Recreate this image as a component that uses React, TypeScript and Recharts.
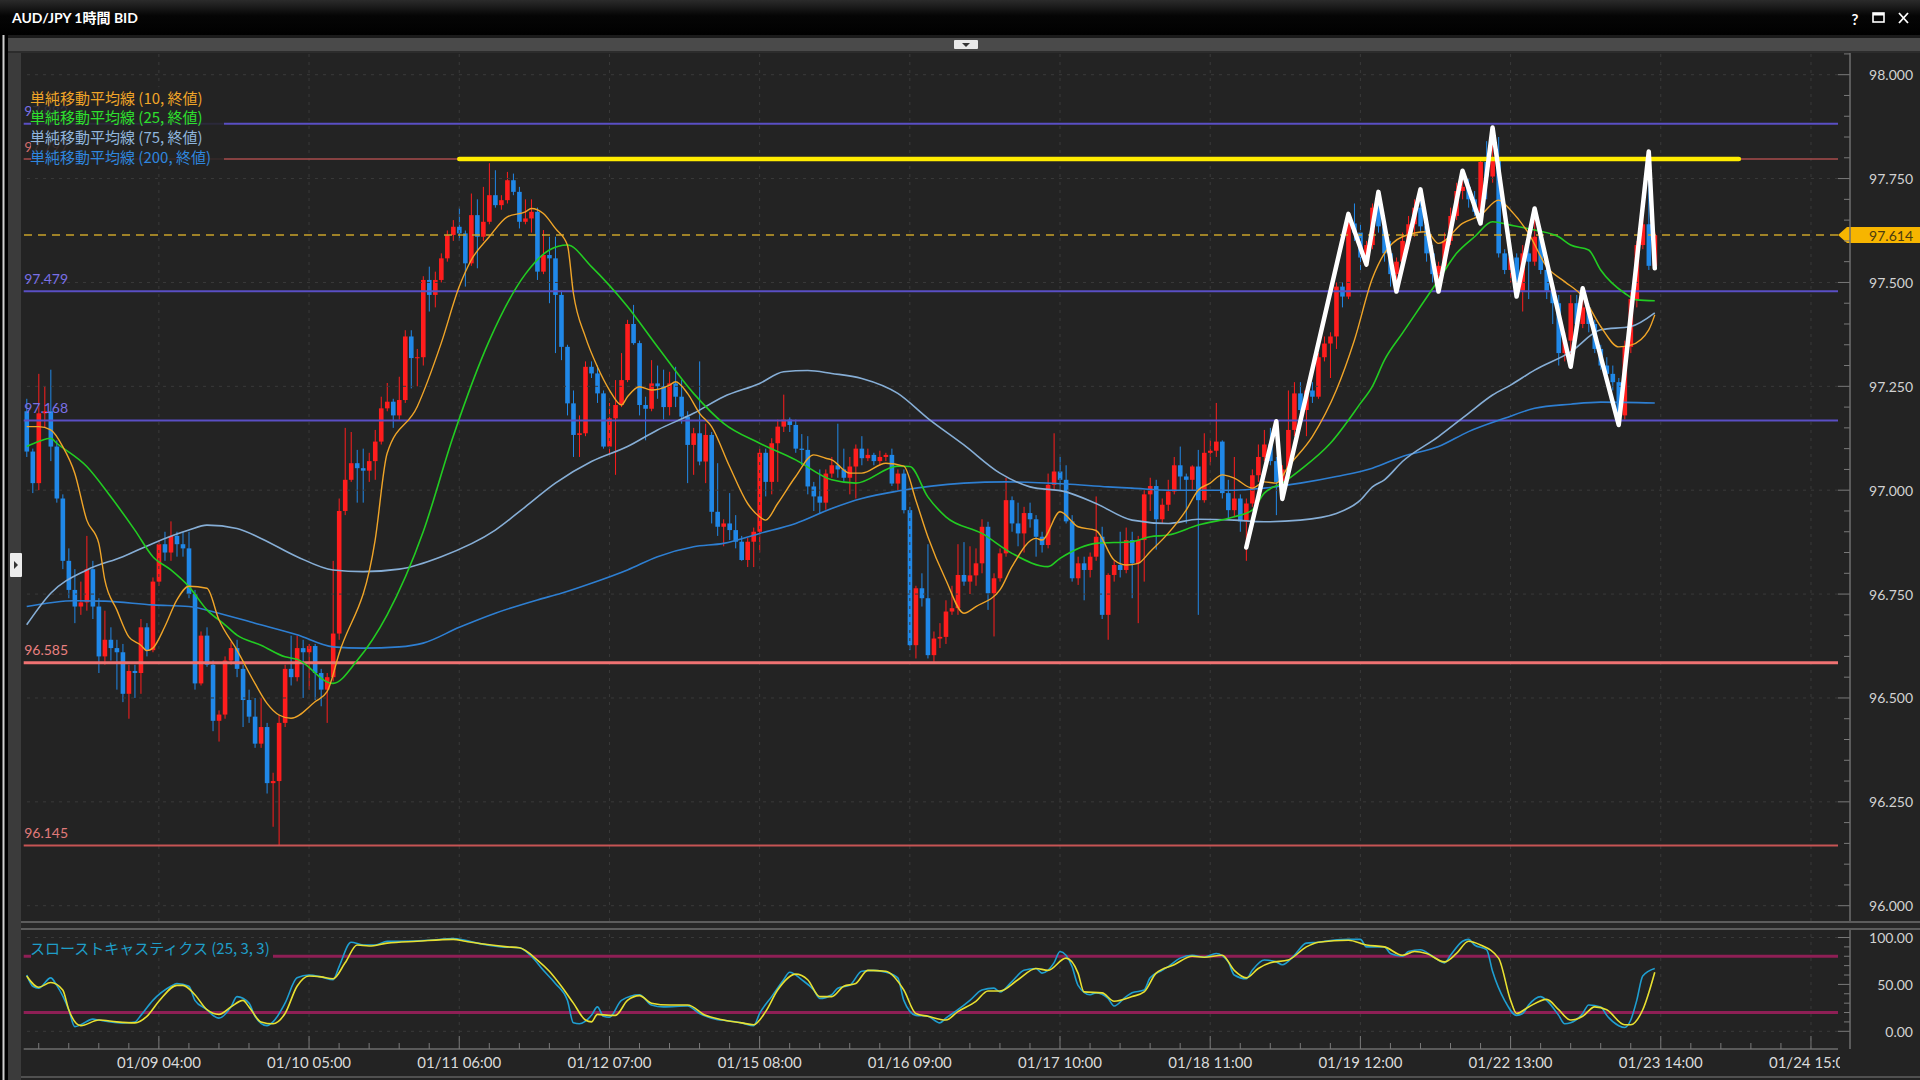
import React from 'react';
import { ComposedChart, Bar, Line, XAxis, YAxis, ReferenceLine } from 'recharts';

// ---------- layout constants ----------
const W = 1920;
const PLOT_L = 23.7;
const AXIS_W = 82;
const PLOT_R = W - AXIS_W; // 1838
const AXIS_X = 1850;
const PRICE_H = 921;
const PRICE_TOP = 53;
const ST_TOP = 929;
const ST_H = 151;
const ST_XAXIS_H = 31;
const ST_PLOT_H = ST_H - ST_XAXIS_H; // 120
const PRICE_DOMAIN: [number, number] = [95.9632, 98.0522];
const ST_DOMAIN: [number, number] = [-18.87, 109.06];
const N_SLOTS = 302;

// ---------- data ----------
const opens = [
97.19,97.093,97.017,97.185,97.19,97.105,96.98,96.83,96.76,96.72,
96.73,96.81,96.72,96.60,96.64,96.62,96.61,96.51,96.565,96.56,
96.67,96.615,96.78,96.87,96.85,96.89,96.87,96.86,96.75,96.535,
96.65,96.58,96.445,96.46,96.59,96.62,96.57,96.495,96.455,96.39,
96.43,96.295,96.30,96.44,96.57,96.55,96.62,96.61,96.625,96.56,
96.52,96.55,96.655,96.95,97.025,97.065,97.053,97.047,97.07,97.117,
97.197,97.213,97.18,97.217,97.37,97.318,97.32,97.506,97.47,97.506,
97.558,97.614,97.634,97.618,97.546,97.662,97.61,97.646,97.71,97.686,
97.698,97.746,97.718,97.646,97.654,97.67,97.526,97.566,97.558,97.47,
97.345,97.209,97.133,97.137,97.297,97.281,97.233,97.105,97.173,97.205,
97.265,97.40,97.354,97.205,97.196,97.257,97.25,97.20,97.257,97.225,
97.177,97.109,97.137,97.069,97.133,96.948,96.912,96.92,96.904,96.876,
96.832,96.876,96.90,97.09,97.02,97.113,97.153,97.17,97.157,97.10,
97.097,97.009,96.985,96.97,97.04,97.06,97.05,97.03,97.057,97.10,
97.077,97.085,97.07,97.08,97.085,97.016,97.04,96.952,96.627,96.764,
96.74,96.603,96.643,96.647,96.708,96.716,96.796,96.78,96.795,96.824,
96.912,96.752,96.788,96.848,96.976,96.92,96.896,96.945,96.93,96.888,
96.868,97.013,97.045,97.025,96.925,96.788,96.824,96.808,96.84,96.888,
96.70,96.796,96.82,96.808,96.88,96.824,96.88,96.99,97.01,96.93,
96.965,96.997,97.06,97.033,97.025,97.057,96.976,97.09,97.095,97.117,
96.993,96.952,96.98,96.925,96.968,97.036,97.08,97.11,97.07,97.02,
97.05,97.145,97.233,97.193,97.24,97.225,97.32,97.353,97.37,97.49,
97.466,97.642,97.62,97.56,97.59,97.68,97.635,97.57,97.52,97.55,
97.60,97.64,97.68,97.635,97.57,97.52,97.54,97.60,97.66,97.72,
97.73,97.70,97.67,97.79,97.755,97.80,97.57,97.53,97.56,97.48,
97.57,97.55,97.61,97.53,97.48,97.45,97.33,97.36,97.45,97.40,
97.44,97.40,97.34,97.30,97.28,97.26,97.18,97.345,97.46,97.59,
97.64,97.54];

const highs = [
97.22,97.10,97.28,97.25,97.29,97.12,96.99,96.86,96.81,96.78,
96.89,96.83,96.74,96.71,96.67,96.64,96.63,96.58,96.58,96.69,
96.68,96.79,96.88,96.90,96.925,96.90,96.90,96.90,96.76,96.66,
96.67,96.59,96.47,96.60,96.635,96.64,96.58,96.52,96.50,96.50,
96.44,96.32,96.46,96.58,96.65,96.65,96.64,96.63,96.63,96.57,
96.56,96.83,96.98,97.15,97.14,97.097,97.10,97.09,97.145,97.225,
97.258,97.22,97.273,97.385,97.385,97.34,97.515,97.538,97.526,97.57,
97.625,97.65,97.68,97.625,97.714,97.70,97.73,97.787,97.77,97.71,
97.766,97.762,97.73,97.70,97.70,97.68,97.626,97.61,97.61,97.48,
97.35,97.24,97.18,97.31,97.31,97.30,97.24,97.21,97.265,97.33,
97.41,97.446,97.36,97.225,97.313,97.30,97.29,97.285,97.297,97.265,
97.19,97.15,97.31,97.16,97.14,97.065,96.93,96.993,96.94,96.89,
96.885,96.91,97.10,97.10,97.125,97.17,97.23,97.175,97.17,97.135,
97.13,97.02,97.05,97.05,97.08,97.16,97.10,97.08,97.11,97.13,
97.10,97.09,97.095,97.09,97.10,97.05,97.05,96.96,96.77,96.80,
96.87,96.66,96.68,96.735,96.77,96.87,96.875,96.865,96.86,96.93,
96.924,96.80,96.86,97.03,96.985,96.97,96.96,96.97,96.94,96.90,
97.04,97.137,97.08,97.06,96.94,96.84,96.84,96.85,96.985,96.912,
96.80,96.83,96.90,96.91,96.90,96.89,97.0,97.03,97.025,96.98,
97.025,97.08,97.105,97.04,97.06,97.097,97.137,97.12,97.21,97.12,
97.025,97.08,96.99,96.98,97.05,97.11,97.145,97.15,97.08,97.06,
97.24,97.26,97.26,97.25,97.26,97.33,97.37,97.38,97.50,97.50,
97.665,97.69,97.64,97.60,97.69,97.72,97.65,97.60,97.56,97.62,
97.66,97.70,97.724,97.65,97.59,97.55,97.62,97.68,97.74,97.769,
97.75,97.72,97.80,97.84,97.873,97.85,97.58,97.565,97.57,97.59,
97.60,97.678,97.63,97.55,97.50,97.47,97.38,97.47,97.47,97.486,
97.45,97.41,97.35,97.32,97.30,97.27,97.36,97.48,97.60,97.70,
97.815,97.62];

const lows = [
97.08,96.993,97.0,97.15,97.07,96.97,96.81,96.74,96.68,96.70,
96.71,96.69,96.56,96.58,96.59,96.52,96.49,96.45,96.50,96.51,
96.60,96.61,96.77,96.83,96.83,96.84,96.84,96.74,96.52,96.53,
96.575,96.42,96.395,96.45,96.58,96.55,96.43,96.44,96.38,96.38,
96.27,96.19,96.145,96.43,96.53,96.54,96.50,96.52,96.495,96.48,
96.44,96.54,96.64,96.94,97.02,96.97,96.97,97.02,97.025,97.11,
97.19,97.15,97.17,97.21,97.245,97.25,97.30,97.43,97.44,97.50,
97.55,97.60,97.60,97.49,97.54,97.534,97.60,97.64,97.68,97.675,
97.69,97.71,97.63,97.64,97.62,97.506,97.52,97.45,97.33,97.313,
97.18,97.08,97.08,97.13,97.27,97.21,97.10,97.08,97.037,97.20,
97.26,97.35,97.18,97.12,97.19,97.22,97.17,97.18,97.20,97.16,
97.017,97.037,97.06,97.017,96.92,96.89,96.865,96.88,96.86,96.83,
96.815,96.815,96.85,96.985,96.99,97.02,97.14,97.14,97.09,97.06,
96.99,96.95,96.945,96.953,97.03,97.03,97.02,96.99,96.98,97.06,
97.07,97.06,97.06,97.07,97.01,97.0,96.944,96.615,96.595,96.72,
96.595,96.587,96.62,96.63,96.70,96.70,96.77,96.75,96.77,96.80,
96.712,96.648,96.78,96.84,96.90,96.865,96.85,96.91,96.84,96.85,
96.86,97.0,97.0,96.92,96.78,96.772,96.735,96.79,96.83,96.69,
96.64,96.78,96.79,96.80,96.74,96.68,96.78,96.95,96.857,96.92,
96.95,96.99,97.0,96.92,97.0,96.70,96.97,97.06,97.08,96.98,
96.93,96.935,96.90,96.83,96.96,97.02,97.07,97.06,96.94,97.0,
97.04,97.13,97.18,97.13,97.21,97.22,97.31,97.27,97.34,97.44,
97.46,97.60,97.53,97.54,97.58,97.62,97.55,97.49,97.478,97.53,
97.58,97.61,97.62,97.55,97.50,97.478,97.53,97.59,97.65,97.70,
97.68,97.66,97.642,97.70,97.74,97.56,97.52,97.50,97.466,97.43,
97.46,97.54,97.52,97.46,97.40,97.30,97.31,97.297,97.39,97.39,
97.38,97.33,97.29,97.26,97.24,97.157,97.17,97.33,97.44,97.58,
97.53,97.53];

const closes = [
97.093,97.017,97.185,97.19,97.105,96.98,96.83,96.76,96.72,96.73,
96.81,96.72,96.60,96.64,96.62,96.61,96.51,96.565,96.56,96.67,
96.615,96.78,96.87,96.85,96.89,96.87,96.86,96.75,96.535,96.65,
96.58,96.445,96.46,96.59,96.62,96.57,96.495,96.455,96.39,96.43,
96.295,96.30,96.44,96.57,96.55,96.62,96.61,96.625,96.56,96.52,
96.55,96.655,96.95,97.025,97.065,97.053,97.047,97.07,97.117,97.197,
97.213,97.18,97.217,97.37,97.318,97.32,97.506,97.47,97.506,97.558,
97.614,97.634,97.618,97.546,97.662,97.61,97.646,97.71,97.686,97.698,
97.746,97.718,97.646,97.654,97.67,97.526,97.566,97.558,97.47,97.345,
97.209,97.133,97.137,97.297,97.281,97.233,97.105,97.173,97.205,97.265,
97.40,97.354,97.205,97.196,97.257,97.25,97.20,97.257,97.225,97.177,
97.109,97.137,97.069,97.133,96.948,96.912,96.92,96.904,96.876,96.832,
96.876,96.90,97.09,97.02,97.113,97.153,97.17,97.157,97.10,97.097,
97.009,96.985,96.97,97.04,97.06,97.05,97.03,97.057,97.10,97.077,
97.085,97.07,97.08,97.085,97.016,97.04,96.952,96.627,96.764,96.74,
96.603,96.643,96.647,96.708,96.716,96.796,96.78,96.795,96.824,96.912,
96.752,96.788,96.848,96.976,96.92,96.896,96.945,96.93,96.888,96.868,
97.013,97.045,97.025,96.925,96.788,96.824,96.808,96.84,96.888,96.70,
96.796,96.82,96.808,96.88,96.824,96.88,96.99,97.01,96.93,96.965,
96.997,97.06,97.033,97.025,97.057,96.976,97.09,97.095,97.117,96.993,
96.952,96.98,96.925,96.968,97.036,97.08,97.11,97.07,97.02,97.05,
97.145,97.233,97.193,97.24,97.225,97.32,97.353,97.37,97.49,97.466,
97.642,97.62,97.56,97.59,97.68,97.635,97.57,97.52,97.55,97.60,
97.64,97.68,97.635,97.57,97.52,97.54,97.60,97.66,97.72,97.73,
97.70,97.67,97.79,97.755,97.80,97.57,97.53,97.56,97.48,97.57,
97.55,97.61,97.53,97.48,97.45,97.33,97.36,97.45,97.40,97.44,
97.40,97.34,97.30,97.28,97.26,97.18,97.345,97.46,97.59,97.64,
97.54,97.614];

const ma10Idx = [0,2,4,6,8,10,12,13,15,17,19,20,21,23,25,27,30,32,35,38,40,42,44,48,50,52,58,60,65,69,72,74,77,80,83,84,86,88,90,91,93,95,97,99,100,102,104,107,108,110,112,114,117,120,122,123,125,128,131,133,134,137,139,143,146,148,150,153,156,158,162,164,168,169,172,175,178,181,183,185,187,190,193,195,197,199,201,204,206,208,210,214,218,221,224,226,229,233,235,239,242,245,247,250,253,256,259,262,265,267,270,271];
const ma10Val = [97.153,97.153,97.145,97.105,97.041,96.928,96.872,96.784,96.712,96.647,96.627,96.614,96.62,96.672,96.736,96.769,96.764,96.688,96.615,96.535,96.487,96.459,96.451,96.491,96.515,96.607,96.88,97.089,97.201,97.354,97.49,97.554,97.61,97.658,97.67,97.678,97.666,97.63,97.59,97.474,97.369,97.297,97.241,97.205,97.225,97.249,97.241,97.253,97.261,97.233,97.185,97.153,97.057,96.968,96.936,96.928,96.968,97.033,97.085,97.077,97.073,97.041,97.041,97.065,97.058,96.976,96.888,96.784,96.704,96.72,96.76,96.816,96.884,96.88,96.948,96.912,96.903,96.832,96.82,96.824,96.852,96.896,96.952,97.0,97.017,97.037,97.029,97.005,97.02,97.017,97.057,97.129,97.241,97.361,97.51,97.57,97.61,97.622,97.594,97.642,97.662,97.698,97.674,97.618,97.538,97.502,97.466,97.394,97.345,97.349,97.386,97.422];

const ma25Idx = [0,2,4,5,10,14,18,21,24,27,30,33,35,39,43,45,51,55,60,66,71,77,83,87,90,94,100,105,111,116,122,128,134,138,145,147,150,153,159,164,170,172,178,184,187,190,195,201,204,206,209,212,217,222,224,226,229,232,235,238,241,244,247,251,255,257,260,262,266,268,271];
const ma25Val = [97.105,97.117,97.125,97.113,97.057,96.984,96.904,96.84,96.808,96.768,96.712,96.676,96.651,96.627,96.599,96.593,96.535,96.59,96.70,96.90,97.13,97.36,97.52,97.578,97.59,97.538,97.442,97.345,97.233,97.161,97.113,97.073,97.025,97.017,97.058,97.057,96.984,96.936,96.896,96.848,96.816,96.836,96.872,96.876,96.888,96.892,96.916,96.936,96.952,96.993,97.017,97.049,97.113,97.209,97.25,97.313,97.378,97.442,97.506,97.57,97.61,97.646,97.638,97.626,97.61,97.59,97.578,97.53,97.474,97.458,97.456];

const ma75Idx = [0,4,10,16,21,27,30,35,39,45,51,56,62,69,78,83,88,94,100,105,111,116,122,126,130,134,139,145,150,156,162,167,173,178,184,190,195,201,206,212,218,222,224,226,229,235,240,244,247,251,257,262,267,271];
const ma75Val = [96.676,96.752,96.808,96.84,96.872,96.904,96.916,96.908,96.884,96.84,96.808,96.804,96.81,96.84,96.904,96.96,97.017,97.069,97.105,97.145,97.185,97.225,97.257,97.285,97.288,97.281,97.269,97.233,97.173,97.109,97.041,97.008,96.996,96.968,96.928,96.92,96.93,96.928,96.924,96.928,96.944,96.976,97.008,97.025,97.069,97.129,97.185,97.229,97.253,97.289,97.333,97.386,97.394,97.427];

const ma200Idx = [0,8,13,21,27,32,38,45,51,56,62,66,72,78,85,89,94,100,105,111,116,122,128,134,139,145,156,163,173,180,184,190,195,201,206,212,218,224,229,235,240,246,251,257,262,271];
const ma200Val = [96.72,96.734,96.733,96.724,96.72,96.704,96.68,96.652,96.623,96.62,96.623,96.632,96.67,96.704,96.736,96.752,96.776,96.808,96.84,96.864,96.872,96.896,96.92,96.956,96.98,96.998,97.017,97.02,97.015,97.008,97.005,97.0,97.0,97.0,97.005,97.017,97.033,97.053,97.081,97.105,97.141,97.173,97.197,97.207,97.212,97.21];

const zigIdx = [203,208,209,220,223,225,228,232,235,239,242,244,248,251,257,259,265,270,271];
const zigVal = [96.862,97.166,96.979,97.665,97.543,97.718,97.478,97.724,97.478,97.769,97.642,97.873,97.466,97.678,97.297,97.486,97.157,97.815,97.534];

const resistIdx = [72, 285];
const resistVal = [97.797, 97.797];

const stKIdx = [0,1,2,4,5,7,8,9,11,12,14,16,18,19,21,24,25,27,28,30,31,32,34,35,37,38,40,41,43,45,47,49,51,52,54,56,58,60,62,67,71,73,75,79,82,84,86,88,90,91,92,94,95,96,97,99,102,104,106,110,112,114,117,119,121,122,124,126,127,129,131,132,134,135,137,139,141,143,145,146,148,150,152,153,155,157,159,161,162,164,166,168,169,171,172,174,175,177,178,180,181,183,184,186,187,189,190,192,194,196,198,200,201,203,204,206,208,209,211,213,215,216,220,222,223,226,227,229,230,232,234,236,237,239,240,241,243,244,246,248,249,250,252,253,255,256,257,259,260,262,263,265,266,267,268,269,271];
const stKVal = [60,48,46,57,49,23,5,7,13,12,10,9,10,17,33,48,51,48,33,23,17,14,26,37,30,16,6,10,30,57,60,58,55,69,95,92,92,96,96,97,99,97,94,90,89,80,65,51,33,9,8,17,26,16,15,33,39,28,26,27,19,14,11,9,6,19,37,55,63,55,44,35,39,46,49,64,65,63,57,33,17,16,9,14,23,33,44,46,42,53,65,67,62,73,85,69,49,39,41,35,27,37,41,44,57,65,69,78,81,79,83,74,60,56,65,76,74,71,81,94,95,96,98,98,90,90,83,80,85,87,80,73,81,96,98,92,87,64,33,17,19,28,37,33,17,8,9,19,28,26,17,6,4,12,33,59,67];

const stDIdx = [0,2,4,6,7,9,12,15,18,20,22,25,26,28,30,32,34,36,37,39,41,43,45,47,49,51,53,55,57,60,65,71,73,76,80,82,85,87,89,91,93,94,95,97,98,100,102,104,107,110,113,116,119,121,123,125,128,130,132,134,136,138,140,143,146,148,150,153,155,158,160,162,165,168,170,173,175,176,179,181,184,186,188,191,194,196,199,201,203,205,207,210,213,215,220,223,226,229,231,233,236,238,240,242,245,247,248,250,253,255,257,259,261,263,266,267,269,271];
const stDVal = [59,47,52,44,23,6,12,10,9,16,32,49,49,39,23,18,26,33,26,10,8,19,48,59,58,56,73,92,91,94,96,98,96,93,90,89,76,64,48,30,12,10,18,17,17,33,38,30,28,28,17,12,9,7,21,44,61,55,37,37,48,51,65,64,44,19,16,12,21,32,43,43,55,67,65,78,62,42,41,32,37,42,62,71,80,79,81,65,57,67,73,76,90,95,97,92,90,81,85,83,74,83,96,92,78,33,19,26,34,23,12,16,26,23,7,7,23,63];

const xTickIdx = [22, 47, 72, 97, 122, 147, 172, 197, 222, 247, 272, 297];
const xTickLabels = ['01/09 04:00','01/10 05:00','01/11 06:00','01/12 07:00','01/15 08:00','01/16 09:00','01/17 10:00','01/18 11:00','01/19 12:00','01/22 13:00','01/23 14:00','01/24 15:00'];

const levelPrices = [97.882, 97.797, 97.479, 97.168, 96.585, 96.145];
const levelLabels = ['97.882', '97.797', '97.479', '97.168', '96.585', '96.145'];
const currentPrice = 97.614;
const priceLabelTicks = [98.0, 97.75, 97.5, 97.25, 97.0, 96.75, 96.5, 96.25, 96.0];
const stLabelTicks = [100, 50, 0];
const maLegend = ['単純移動平均線 (10, 終値)', '単純移動平均線 (25, 終値)', '単純移動平均線 (75, 終値)', '単純移動平均線 (200, 終値)'];
const stLegend = 'スローストキャスティクス (25, 3, 3)';

// styles (kept apart from data)
const levelStyles = [
  { stroke: '#5a4fc4', width: 2, text: '#7a70e6' },
  { stroke: '#a84c4c', width: 1.6, text: '#d06a6a' },
  { stroke: '#5a4fc4', width: 2, text: '#7a70e6' },
  { stroke: '#5a4fc4', width: 2, text: '#7a70e6' },
  { stroke: '#f07272', width: 3, text: '#e88080' },
  { stroke: '#c65454', width: 2, text: '#e07a7a' },
];
const maColors = ['#f0a528', '#22cc22', '#86aed6', '#2e7fd2'];
const legendColors = ['#f0a528', '#2ee02e', '#8fb6de', '#2f86de'];
const BG = '#232323';
const NUM_FONT = 'Lato, "Noto Sans", sans-serif';
const JP_FONT = '"Noto Sans CJK JP", "Noto Sans", sans-serif';

// ---------- rows ----------
const rows: any[] = Array.from({ length: N_SLOTS }, (_, i) => ({ i }));
opens.forEach((o, i) => {
  rows[i].o = o;
  rows[i].h = highs[i];
  rows[i].l = lows[i];
  rows[i].c = closes[i];
  rows[i].range = [lows[i], highs[i]];
});
const put = (key: string, idx: number[], val: number[]) => idx.forEach((ix, k) => { rows[ix][key] = val[k]; });
put('ma10', ma10Idx, ma10Val);
put('ma25', ma25Idx, ma25Val);
put('ma75', ma75Idx, ma75Val);
put('ma200', ma200Idx, ma200Val);
put('zig', zigIdx, zigVal);
put('res', resistIdx, resistVal);
put('stK', stKIdx, stKVal);
put('stD', stDIdx, stDVal);

const priceTicks: number[] = [];
for (let k = 0; k <= 41; k++) priceTicks.push(Math.round((96 + k * 0.05) * 1000) / 1000);
const stTicks: number[] = [];
for (let k = 0; k <= 10; k++) stTicks.push(k * 10);
const xTicks: number[] = [];
for (let k = 2; k < N_SLOTS; k += 5) xTicks.push(k);

// ---------- renderers ----------
const Candle = (props: any) => {
  const { x, y, width, height, payload } = props;
  if (!payload || payload.o == null || x == null || y == null) return null;
  const { o, h, l, c } = payload;
  const top = Math.min(y, y + height);
  const hh = Math.abs(height);
  const span = h - l;
  const k = span > 0 ? hh / span : 0;
  const cx = x + width / 2;
  const yO = top + (h - o) * k;
  const yC = top + (h - c) * k;
  const up = c >= o;
  const color = up ? '#ff1d1d' : '#2088e8';
  const bTop = Math.min(yO, yC);
  const bH = Math.max(1, Math.abs(yC - yO));
  return (
    <g>
      <line x1={cx} x2={cx} y1={top} y2={top + hh} stroke={color} strokeWidth={1} />
      <rect x={cx - 2.3} y={bTop} width={4.6} height={bH} fill={color} />
    </g>
  );
};

const PriceTick = (props: any) => {
  const { y, payload } = props;
  const v = payload.value as number;
  const major = Math.abs(v * 4 - Math.round(v * 4)) < 1e-6;
  return (
    <g>
      <line x1={major ? PLOT_R : PLOT_R + 6} x2={AXIS_X} y1={y} y2={y} stroke="#7a7a7a" strokeWidth={1} />
      {major && priceLabelTicks.some((t) => Math.abs(t - v) < 1e-6) && (
        <text x={1913} y={y} textAnchor="end" dominantBaseline="central" fill="#d2d2d2" fontSize={14} fontFamily={NUM_FONT}>
          {v.toFixed(3)}
        </text>
      )}
    </g>
  );
};

const StTick = (props: any) => {
  const { y, payload } = props;
  const v = payload.value as number;
  const major = stLabelTicks.indexOf(v) >= 0;
  return (
    <g>
      <line x1={major ? PLOT_R : PLOT_R + 6} x2={AXIS_X} y1={y} y2={y} stroke="#7a7a7a" strokeWidth={1} />
      {major && (
        <text x={1913} y={y} textAnchor="end" dominantBaseline="central" fill="#d2d2d2" fontSize={14} fontFamily={NUM_FONT}>
          {v.toFixed(2)}
        </text>
      )}
    </g>
  );
};

const XTick = (props: any) => {
  const { x, payload } = props;
  const idx = payload.value as number;
  const k = xTickIdx.indexOf(idx);
  const major = k >= 0;
  return (
    <g>
      <line x1={x} x2={x} y1={ST_PLOT_H - (major ? 13 : 6)} y2={ST_PLOT_H} stroke="#7a7a7a" strokeWidth={1} />
      {major && (
        <text x={x} y={ST_PLOT_H + 13} textAnchor="middle" dominantBaseline="central" fill="#dadada" fontSize={15} fontFamily={NUM_FONT}>
          {xTickLabels[k]}
        </text>
      )}
    </g>
  );
};

const levelLabel = (text: string, color: string) => (props: any) => {
  const vb = props.viewBox || {};
  return (
    <text x={(vb.x ?? PLOT_L) + 0.5} y={(vb.y ?? 0) - 13} dominantBaseline="central" fill={color} fontSize={14} fontFamily={NUM_FONT}>
      {text}
    </text>
  );
};

const priceTag = (props: any) => {
  const vb = props.viewBox || {};
  const y = vb.y ?? 0;
  const x0 = (vb.x ?? PLOT_L) + (vb.width ?? 0);
  return (
    <g>
      <polygon points={`${x0},${y} ${x0 + 9},${y - 8} ${W},${y - 8} ${W},${y + 8} ${x0 + 9},${y + 8}`} fill="#f7b500" />
      <text x={1913} y={y + 0.5} textAnchor="end" dominantBaseline="central" fill="#4a3c10" fontSize={14} fontFamily={NUM_FONT}>
        {currentPrice.toFixed(3)}
      </text>
    </g>
  );
};

const gridStroke = '#3a3a3a';

export default function App() {
  return (
    <div style={{ position: 'absolute', left: 0, top: 0, width: 1920, height: 1080, background: BG, overflow: 'hidden' }}>
      {/* price panel */}
      <div style={{ position: 'absolute', left: 0, top: 0 }}>
        <ComposedChart width={W} height={PRICE_H} data={rows} margin={{ top: PRICE_TOP, right: 0, bottom: 0, left: PLOT_L }}>
          <XAxis dataKey="i" type="category" scale="band" hide />
          <YAxis
            yAxisId="p"
            orientation="right"
            width={AXIS_W}
            type="number"
            domain={PRICE_DOMAIN}
            allowDataOverflow
            ticks={priceTicks}
            interval={0}
            axisLine={false}
            tickLine={false}
            tick={PriceTick}
          />
          {priceLabelTicks.map((v) => (
            <ReferenceLine key={'g' + v} yAxisId="p" y={v} stroke={gridStroke} strokeDasharray="3 5" />
          ))}
          {xTickIdx.map((ix) => (
            <ReferenceLine key={'v' + ix} yAxisId="p" x={ix} stroke={gridStroke} strokeDasharray="3 5" />
          ))}
          {levelPrices.map((p, k) => (
            <ReferenceLine
              key={'lv' + k}
              yAxisId="p"
              y={p}
              stroke={levelStyles[k].stroke}
              strokeWidth={levelStyles[k].width}
              label={levelLabel(levelLabels[k], levelStyles[k].text)}
            />
          ))}
          <ReferenceLine yAxisId="p" y={currentPrice} stroke="#c9a22a" strokeWidth={1.5} strokeDasharray="8 6" label={priceTag} />
          <Bar yAxisId="p" dataKey="range" shape={Candle} isAnimationActive={false} />
          <Line yAxisId="p" dataKey="ma200" type="monotone" stroke={maColors[3]} strokeWidth={1.6} dot={false} connectNulls isAnimationActive={false} />
          <Line yAxisId="p" dataKey="ma75" type="monotone" stroke={maColors[2]} strokeWidth={1.6} dot={false} connectNulls isAnimationActive={false} />
          <Line yAxisId="p" dataKey="ma25" type="monotone" stroke={maColors[1]} strokeWidth={1.6} dot={false} connectNulls isAnimationActive={false} />
          <Line yAxisId="p" dataKey="ma10" type="monotone" stroke={maColors[0]} strokeWidth={1.4} dot={false} connectNulls isAnimationActive={false} />
          <Line yAxisId="p" dataKey="res" type="linear" stroke="#ffec00" strokeWidth={4.5} strokeLinecap="round" dot={false} connectNulls isAnimationActive={false} />
          <Line yAxisId="p" dataKey="zig" type="linear" stroke="#ffffff" strokeWidth={4.5} strokeLinejoin="round" strokeLinecap="round" dot={false} connectNulls isAnimationActive={false} />
        </ComposedChart>
      </div>

      {/* stochastic panel */}
      <div style={{ position: 'absolute', left: 0, top: ST_TOP }}>
        <ComposedChart width={W} height={ST_H} data={rows} margin={{ top: 0, right: 0, bottom: 0, left: PLOT_L }}>
          <XAxis
            dataKey="i"
            type="category"
            scale="band"
            height={ST_XAXIS_H}
            ticks={xTicks}
            interval={0}
            axisLine={{ stroke: '#6e6e6e', strokeWidth: 1.5 }}
            tickLine={false}
            tick={XTick}
          />
          <YAxis
            yAxisId="s"
            orientation="right"
            width={AXIS_W}
            type="number"
            domain={ST_DOMAIN}
            allowDataOverflow
            ticks={stTicks}
            interval={0}
            axisLine={false}
            tickLine={false}
            tick={StTick}
          />
          <ReferenceLine yAxisId="s" y={100} stroke={gridStroke} strokeDasharray="3 5" />
          <ReferenceLine yAxisId="s" y={0} stroke={gridStroke} strokeDasharray="3 5" />
          {xTickIdx.map((ix) => (
            <ReferenceLine key={'sv' + ix} yAxisId="s" x={ix} stroke={gridStroke} strokeDasharray="3 5" />
          ))}
          <ReferenceLine yAxisId="s" y={80} stroke="#8e1f55" strokeWidth={3} />
          <ReferenceLine yAxisId="s" y={20} stroke="#8e1f55" strokeWidth={3} />
          <Line yAxisId="s" dataKey="stK" type="monotone" stroke="#1f9ed0" strokeWidth={1.6} dot={false} connectNulls isAnimationActive={false} />
          <Line yAxisId="s" dataKey="stD" type="monotone" stroke="#e8e030" strokeWidth={1.6} dot={false} connectNulls isAnimationActive={false} />
        </ComposedChart>
      </div>

      {/* frame / decorations */}
      <svg width={1920} height={1080} style={{ position: 'absolute', left: 0, top: 0, pointerEvents: 'none' }}>
        <defs>
          <linearGradient id="titleGrad" x1="0" y1="0" x2="0" y2="1">
            <stop offset="0" stopColor="#2b2b2b" />
            <stop offset="0.45" stopColor="#050505" />
            <stop offset="1" stopColor="#000000" />
          </linearGradient>
        </defs>
        {/* outer left border */}
        <rect x={0} y={0} width={8} height={1080} fill="#000" />
        <rect x={2.5} y={0} width={2} height={1080} fill="#cfcfcf" />
        {/* title bar */}
        <rect x={0} y={0} width={1920} height={35} fill="url(#titleGrad)" />
        <text x={12} y={17} dominantBaseline="central" fill="#ffffff" fontSize={14} fontWeight="bold" fontFamily={'Lato, "Noto Sans CJK JP", sans-serif'}>
          AUD/JPY 1時間 BID
        </text>
        <text x={1855} y={19} textAnchor="middle" dominantBaseline="central" fill="#ffffff" fontSize={15} fontWeight="bold" fontFamily={NUM_FONT}>?</text>
        <rect x={1873} y={13} width={11} height={9} fill="none" stroke="#ffffff" strokeWidth={1.6} />
        <rect x={1873} y={13} width={11} height={2.5} fill="#ffffff" />
        <path d="M1899,13 L1908,23 M1908,13 L1899,23" stroke="#ffffff" strokeWidth={1.8} />
        {/* gray toolbar */}
        <rect x={8} y={35} width={1912} height={3} fill="#1a1a1a" />
        <rect x={8} y={38} width={1912} height={13} fill="#4a4a4a" />
        <rect x={954} y={40} width={24} height={9} rx={1} fill="#e8e8e8" />
        <path d="M962,43 L970,43 L966,47 Z" fill="#333" />
        <rect x={8} y={51} width={1912} height={2} fill="#2c2c2c" />
        {/* left strip */}
        <rect x={8} y={53} width={13} height={1027} fill="#3b3b3b" />
        <rect x={10} y={553} width={12} height={24} rx={1} fill="#ececec" />
        <path d="M14,561 L18,565 L14,569 Z" fill="#333" />
        {/* axis vertical lines */}
        <line x1={AXIS_X} x2={AXIS_X} y1={53} y2={921} stroke="#6e6e6e" strokeWidth={1.5} />
        <line x1={AXIS_X} x2={AXIS_X} y1={929} y2={1049} stroke="#6e6e6e" strokeWidth={1.5} />
        {/* panel separator */}
        <rect x={21} y={921} width={1899} height={8} fill="#262626" />
        <line x1={21} x2={1920} y1={922} y2={922} stroke="#5c5c5c" strokeWidth={2} />
        <line x1={21} x2={1920} y1={929} y2={929} stroke="#5c5c5c" strokeWidth={2} />
        {/* clip overflow of last x label */}
        <rect x={1840} y={1051} width={80} height={24} fill={BG} />
        <line x1={21} x2={1920} y1={1077} y2={1077} stroke="#505050" strokeWidth={2} />
        {/* MA legend */}
        <rect x={31} y={87} width={193} height={79} fill={BG} fillOpacity={0.86} />
        {maLegend.map((t, k) => (
          <text key={t} x={30} y={97 + k * 19.8} dominantBaseline="central" fill={legendColors[k]} fontSize={15} fontFamily={JP_FONT}>
            {t}
          </text>
        ))}
        {/* stochastic legend */}
        <rect x={31} y={938} width={242} height={20} fill={BG} />
        <text x={30} y={947.5} dominantBaseline="central" fill="#1f9ec8" fontSize={15} fontFamily={JP_FONT}>
          {stLegend}
        </text>
      </svg>
    </div>
  );
}
